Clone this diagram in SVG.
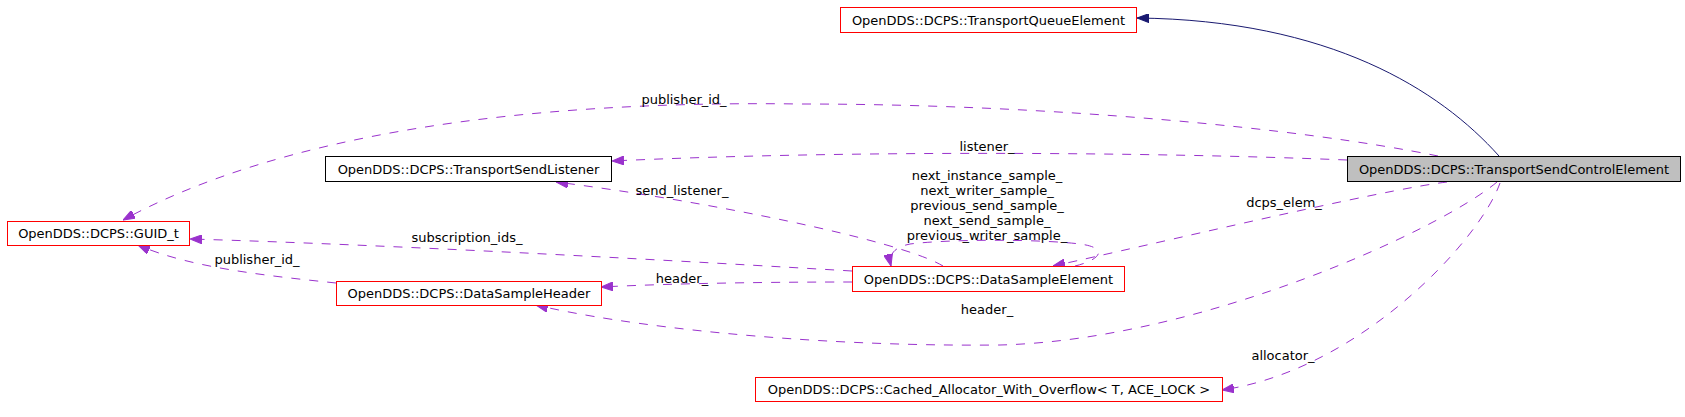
<svg xmlns="http://www.w3.org/2000/svg" width="1685" height="417" viewBox="0 0 1685 417">
<defs>
<style>
text{font-family:"DejaVu Sans","Liberation Sans",sans-serif;font-size:13px;fill:#000;text-anchor:middle}
.n rect{fill:#fff;stroke:#ff0000;stroke-width:1}
.n.b rect{stroke:#000}
.n.g rect{fill:#bfbfbf;stroke:#000}
.e path{fill:none;stroke:#9a32cd;stroke-width:1;stroke-dasharray:9,9}
.e path.inh{stroke:#191970;stroke-dasharray:none}
</style>
<marker id="ap" viewBox="0 0 12 9" refX="12" refY="4.5" markerWidth="12" markerHeight="9" markerUnits="userSpaceOnUse" orient="auto"><path d="M0,0 L12,4.5 L0,9 z" fill="#9a32cd" stroke="#9a32cd" stroke-width="1"/></marker>
<marker id="an" viewBox="0 0 12 9" refX="12" refY="4.5" markerWidth="12" markerHeight="9" markerUnits="userSpaceOnUse" orient="auto"><path d="M0,0 L12,4.5 L0,9 z" fill="#191970" stroke="#191970" stroke-width="1"/></marker>
</defs>
<rect x="0" y="0" width="1685" height="417" fill="#fff"/>
<g id="connectors" class="e">
<path class="inh" d="M1499,156 C1440,90 1330,20 1137,18" marker-end="url(#an)"/>
<path d="M1438,156 C1300,128 1050,104 800,104 C520,100 280,135 123,220" marker-end="url(#ap)"/>
<path d="M1347,160 C1150,152 850,150 612,161" marker-end="url(#ap)"/>
<path d="M943,266 C900,240 700,200 556,182" marker-end="url(#ap)"/>
<path d="M1447,182 C1380,190 1150,245 1053,266" marker-end="url(#ap)"/>
<path d="M1497,182 C1440,230 1200,340 1000,345 C800,347 620,325 536,305" marker-end="url(#ap)"/>
<path d="M1500,183 C1480,240 1360,370 1222,390" marker-end="url(#ap)"/>
<path d="M852,271 C700,262 400,245 190,239" marker-end="url(#ap)"/>
<path d="M852,282 C780,282 680,283 601,287" marker-end="url(#ap)"/>
<path d="M336,283 C270,276 190,268 138,245" marker-end="url(#ap)"/>
<path d="M1075,266 C1100,260 1110,248 1080,244 C1040,239 950,239 910,244 C895,247 888,254 891,266" marker-end="url(#ap)"/>
<text x="684" y="104">publisher_id_</text>
<text x="987" y="151">listener_</text>
<text x="987" y="180">next_instance_sample_</text>
<text x="987" y="195">next_writer_sample_</text>
<text x="987" y="210">previous_send_sample_</text>
<text x="987" y="225">next_send_sample_</text>
<text x="987" y="240">previous_writer_sample_</text>
<text x="682" y="195">send_listener_</text>
<text x="1284" y="207">dcps_elem_</text>
<text x="467" y="242">subscription_ids_</text>
<text x="257" y="264">publisher_id_</text>
<text x="682" y="283">header_</text>
<text x="987" y="314">header_</text>
<text x="1283" y="360">allocator_</text>
</g>
<g id="node-TransportQueueElement" class="n"><rect x="840.5" y="7.5" width="296" height="25"/><text x="988.5" y="24.5">OpenDDS::DCPS::TransportQueueElement</text></g>
<g id="node-TransportSendControlElement" class="n g"><rect x="1347.5" y="156.5" width="333" height="25"/><text x="1514" y="173.5">OpenDDS::DCPS::TransportSendControlElement</text></g>
<g id="node-TransportSendListener" class="n b"><rect x="325.5" y="156.5" width="286" height="25"/><text x="468.5" y="173.5">OpenDDS::DCPS::TransportSendListener</text></g>
<g id="node-GUID_t" class="n"><rect x="7.5" y="221.5" width="182" height="24"/><text x="98.5" y="238">OpenDDS::DCPS::GUID_t</text></g>
<g id="node-DataSampleHeader" class="n"><rect x="336.5" y="281.5" width="265" height="24"/><text x="469" y="298">OpenDDS::DCPS::DataSampleHeader</text></g>
<g id="node-DataSampleElement" class="n"><rect x="852.5" y="266.5" width="272" height="25"/><text x="988.5" y="283.5">OpenDDS::DCPS::DataSampleElement</text></g>
<g id="node-Cached_Allocator" class="n"><rect x="755.5" y="377.5" width="467" height="24"/><text x="989" y="394">OpenDDS::DCPS::Cached_Allocator_With_Overflow&lt; T, ACE_LOCK &gt;</text></g>
</svg>
